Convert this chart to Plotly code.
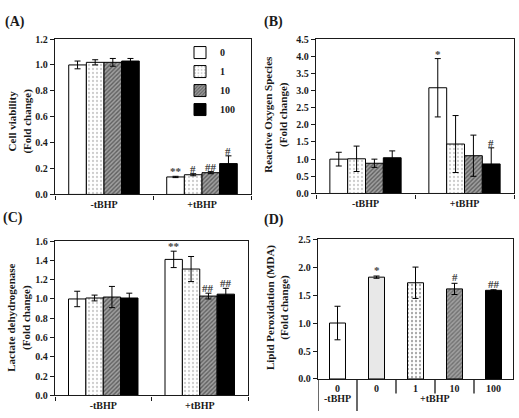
import plotly.graph_objects as go

# ---------------- data ----------------
groups = ["-tBHP", "+tBHP"]
series = ["0", "1", "10", "100"]

# (A) Cell viability
A_vals = [[1.00, 0.135], [1.02, 0.152], [1.02, 0.168], [1.03, 0.238]]
A_err = [[0.03, 0.005], [0.02, 0.008], [0.03, 0.008], [0.02, 0.06]]
A_sig = [["", "**"], ["", "#"], ["", "##"], ["", "#"]]

# (B) ROS
B_vals = [[1.00, 3.08], [1.01, 1.44], [0.88, 1.10], [1.04, 0.86]]
B_err = [[0.20, 0.85], [0.37, 0.83], [0.12, 0.60], [0.20, 0.47]]
B_sig = [["", "*"], ["", ""], ["", ""], ["", "#"]]

# (C) LDH
C_vals = [[1.00, 1.41], [1.01, 1.31], [1.02, 1.03], [1.01, 1.05]]
C_err = [[0.08, 0.085], [0.03, 0.13], [0.11, 0.03], [0.05, 0.06]]
C_sig = [["", "**"], ["", ""], ["", "##"], ["", "##"]]

# (D) Lipid peroxidation
D_labels = ["0", "0", "1", "10", "100"]
D_groups = ["-tBHP", "+tBHP"]
D_vals = [1.00, 1.82, 1.72, 1.61, 1.585]
D_err = [0.30, 0.02, 0.28, 0.10, 0.01]
D_sig = ["", "*", "", "#", "##"]

# ---------------- styling ----------------
W, H = 519, 418
FAM = "Liberation Serif"
INK = "#1a1a1a"

def F(size, color=INK):
    return dict(family=FAM, size=size, color=color, weight="bold")

def dx(a, b):
    return [a / W, b / W]

def dy(top, bottom):
    return [1 - bottom / H, 1 - top / H]

DOT = dict(shape=".", fgcolor="#9a9a9a", bgcolor="white", size=4, solidity=0.25)
HATCH = dict(shape="/", fgcolor="#1e1e1e", bgcolor="#a0a0a0", size=3, solidity=0.45)
STYLE = {
    "0": dict(color="white"),
    "1": dict(color="white", pattern=DOT),
    "10": dict(color="#a0a0a0", pattern=HATCH),
    "100": dict(color="black"),
}
D_colors = ["white", "#e8e8e8", "white", "#a0a0a0", "black"]
D_shapes = ["", "", ".", "/", ""]
D_fg = ["white", "#e8e8e8", "#9a9a9a", "#1e1e1e", "black"]
D_size = [4, 4, 4, 3, 4]
D_sol = [0.3, 0.3, 0.25, 0.45, 0.3]

BARGAP = 0.28

fig = go.Figure()
panels = [("x", "y", A_vals, A_err, A_sig),
          ("x2", "y2", B_vals, B_err, B_sig),
          ("x3", "y3", C_vals, C_err, C_sig)]

annotations = []
gw = 1 - BARGAP
bw = gw / len(series)
for pi, (xa, ya, vals, errs, sigs) in enumerate(panels):
    for si, s in enumerate(series):
        st = STYLE[s]
        marker = dict(color=st["color"], line=dict(color="black", width=1))
        if "pattern" in st:
            marker["pattern"] = st["pattern"]
        fig.add_trace(go.Bar(
            x=groups, y=vals[si], name=s, xaxis=xa, yaxis=ya,
            marker=marker, showlegend=(pi == 0),
            error_y=dict(type="data", array=errs[si], color="black", thickness=1, width=3),
        ))
        for gi in range(len(groups)):
            if sigs[si][gi]:
                xc = gi - gw / 2 + (si + 0.5) * bw
                annotations.append(dict(
                    x=xc, y=vals[si][gi] + errs[si][gi], xref=xa, yref=ya,
                    text=sigs[si][gi], showarrow=False, yanchor="bottom", yshift=-3,
                    font=dict(family=FAM, size=11, color="#444")))

# Panel D: single trace with per-bar patterns
fig.add_trace(go.Bar(
    x=list(range(len(D_vals))), y=D_vals, xaxis="x4", yaxis="y4", width=0.41,
    showlegend=False,
    marker=dict(color=D_colors, line=dict(color="black", width=1),
                pattern=dict(shape=D_shapes, fgcolor=D_fg, bgcolor=D_colors, size=D_size, solidity=D_sol)),
    error_y=dict(type="data", array=D_err, color="black", thickness=1, width=3),
))
for i, s in enumerate(D_sig):
    if s:
        annotations.append(dict(x=i, y=D_vals[i] + D_err[i], xref="x4", yref="y4", text=s,
                                showarrow=False, yanchor="bottom", yshift=-2,
                                font=dict(family=FAM, size=11, color="#444")))

# table-like dividers below panel D
PLOT_D_H = 144.0
long_len = 33 / PLOT_D_H
short_len = 15 / PLOT_D_H
shapes = []
for b in range(len(D_vals)):
    xb = b - 0.5
    ln = long_len if b <= 1 else short_len
    shapes.append(dict(type="line", xref="x4", yref="y4 domain", x0=xb, x1=xb, y0=0, y1=-ln,
                       line=dict(color=INK, width=1.3)))
# second row labels
annotations.append(dict(x=0, y=-0.195, xref="x4", yref="y4 domain", text="-tBHP", showarrow=False,
                        font=F(10)))
annotations.append(dict(x=2.5, y=-0.195, xref="x4", yref="y4 domain", text="+tBHP", showarrow=False,
                        font=F(10)))

# y titles
ytitles = [
    ("Cell viability<br>(Fold change)", 20, 119),
    ("Reactive Oxygen Species<br>(Fold change)", 276, 112),
    ("Lactate dehydrogenase<br>(Fold change)", 19, 321),
    ("Lipid Peroxidation (MDA)<br>(Fold change)", 277, 311),
]
for t, px, py in ytitles:
    annotations.append(dict(x=px / W, y=1 - py / H, xref="paper", yref="paper", text=t, textangle=-90,
                            xanchor="center", yanchor="middle",
                            showarrow=False, font=F(11)))

# panel labels
for t, px, py in [("(A)", 3, 16), ("(B)", 262, 16), ("(C)", 1, 218), ("(D)", 262, 220)]:
    annotations.append(dict(x=px / W, y=1 - py / H, xref="paper", yref="paper", text=t,
                            xanchor="left", yanchor="middle", showarrow=False, font=F(14)))

axis_common = dict(showline=True, linecolor=INK, linewidth=1.3, mirror=True, showgrid=False,
                   zeroline=False, ticks="outside", ticklen=4, tickwidth=1, tickcolor=INK,
                   tickfont=F(10))

def xax(domain, anchor, **kw):
    d = dict(axis_common, domain=domain, anchor=anchor)
    d.update(kw)
    return d

def yax(domain, anchor, rng, dtick):
    return dict(axis_common, domain=domain, anchor=anchor, range=rng, dtick=dtick, tickformat=".1f")

fig.update_layout(
    width=W, height=H, margin=dict(l=0, r=0, t=0, b=0),
    paper_bgcolor="white", plot_bgcolor="white",
    barmode="group", bargap=BARGAP, bargroupgap=0,
    font=F(10),
    xaxis=xax(dx(55, 251), "y", tickson="boundaries"),
    yaxis=yax(dy(34, 194), "x", [0, 1.2], 0.2),
    xaxis2=xax(dx(316, 514), "y2", tickson="boundaries"),
    yaxis2=yax(dy(34, 193), "x2", [0, 4.5], 0.5),
    xaxis3=xax(dx(55, 248), "y3", tickson="boundaries"),
    yaxis3=yax(dy(242, 401), "x3", [0, 1.6], 0.2),
    xaxis4=xax(dx(318, 513), "y4", range=[-0.5, 4.5], tickvals=list(range(len(D_labels))),
               ticktext=D_labels, ticks=""),
    yaxis4=yax(dy(240, 384), "x4", [0, 2.5], 0.5),
    legend=dict(x=180 / W, y=1 - 33 / H, xanchor="left", yanchor="top", bgcolor="rgba(0,0,0,0)",
                font=F(10), tracegroupgap=0, itemwidth=30),
    annotations=annotations, shapes=shapes,
)

fig.write_html("out.html")
